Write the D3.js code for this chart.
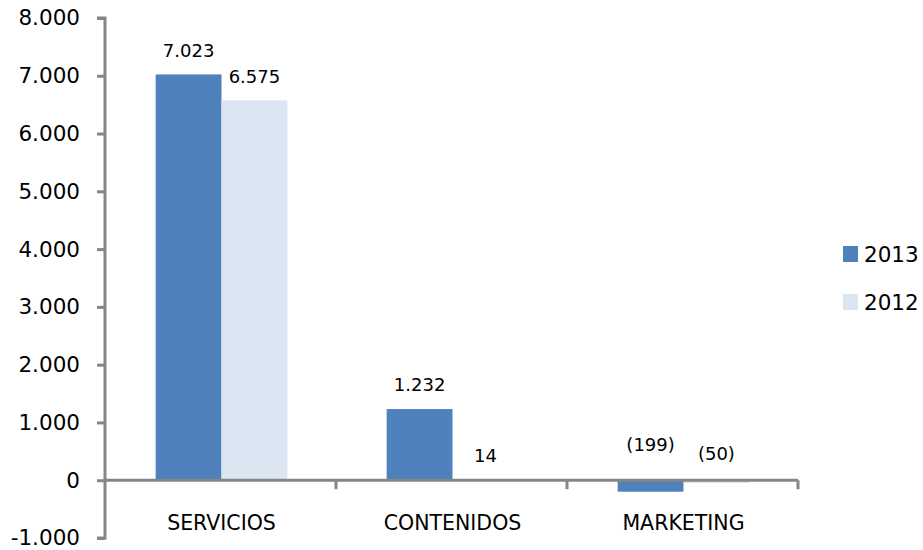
<!DOCTYPE html>
<html>
<head>
<meta charset="utf-8">
<script src="https://cdn.jsdelivr.net/npm/d3@7"></script>
<style>
  body { margin: 0; background: #fff; }
  svg text { font-family: "DejaVu Sans", sans-serif; fill: #000; }
</style>
</head>
<body>
<div id="chart"></div>
<script>
// chart data
const categories = ["SERVICIOS", "CONTENIDOS", "MARKETING"];
const seriesNames = ["2013", "2012"];
const values2013 = [7023, 1232, -199];
const values2012 = [6575, 14, -50];
const yTicks = [-1000, 0, 1000, 2000, 3000, 4000, 5000, 6000, 7000, 8000];

const width = 923, height = 550;
const colors = ["#4F81BD", "#DCE6F2"];
const axisColor = "#868686";

const locale = d3.formatLocale({ decimal: ",", thousands: ".", grouping: [3], currency: ["", ""], minus: "-" });
const fmt = locale.format(",.0f");
const labelFmt = v => v < 0 ? "(" + fmt(-v) + ")" : fmt(v);

let rows = categories.map((c, i) => ({ cat: c, vals: [values2013[i], values2012[i]] }));

let svg = d3.select("#chart")
    .append("svg")
    .attr("width", width)
    .attr("height", height);

let y = d3.scaleLinear()
    .domain([-1000, 8000])
    .range([538, 18]);

let x0 = d3.scaleBand()
    .domain(categories)
    .range([106, 799])
    .paddingInner(0.43)
    .paddingOuter(0.215);

let x1 = d3.scaleBand()
    .domain(seriesNames)
    .range([0, x0.bandwidth()]);

// bars
let groups = svg.selectAll("g.cat")
    .data(rows)
    .enter()
    .append("g")
    .attr("class", "cat")
    .attr("transform", d => "translate(" + x0(d.cat) + ",0)");

groups.selectAll("rect")
    .data(d => d.vals.map((v, j) => ({ key: seriesNames[j], v: v, j: j })))
    .enter()
    .append("rect")
    .attr("x", d => x1(d.key))
    .attr("width", x1.bandwidth())
    .attr("y", d => y(Math.max(0, d.v)))
    .attr("height", d => Math.abs(y(d.v) - y(0)))
    .attr("fill", d => colors[d.j]);

// value labels
groups.selectAll("text")
    .data(d => d.vals.map((v, j) => ({ key: seriesNames[j], v: v, j: j })))
    .enter()
    .append("text")
    .attr("x", d => x1(d.key) + x1.bandwidth() / 2)
    .attr("y", d => y(Math.abs(d.v)) - 24)
    .attr("dy", "0.35em")
    .attr("text-anchor", "middle")
    .style("font-size", "18px")
    .text(d => labelFmt(d.v));

// y axis
let yAxis = svg.append("g")
    .attr("transform", "translate(105,0)")
    .call(d3.axisLeft(y).tickValues(yTicks).tickFormat(fmt).tickSize(8).tickPadding(17));
yAxis.select(".domain").attr("stroke", axisColor).attr("stroke-width", 3)
    .attr("d", "M-8,18H0V538H-8");
yAxis.selectAll(".tick line").attr("stroke", axisColor).attr("stroke-width", 3);
yAxis.selectAll(".tick text").style("font-size", "21.5px").attr("fill", "#000");

// x axis at zero
let bounds = d3.range(categories.length + 1).map(i => 105 + i * x0.step());
let xAxis = svg.append("g");
xAxis.append("line")
    .attr("x1", 105).attr("x2", bounds[bounds.length - 1])
    .attr("y1", y(0)).attr("y2", y(0))
    .attr("stroke", axisColor).attr("stroke-width", 3);
xAxis.selectAll("line.tick")
    .data(bounds.slice(1))
    .enter()
    .append("line")
    .attr("class", "tick")
    .attr("x1", d => d).attr("x2", d => d)
    .attr("y1", y(0)).attr("y2", y(0) + 9)
    .attr("stroke", axisColor).attr("stroke-width", 3);
xAxis.selectAll("text")
    .data(categories)
    .enter()
    .append("text")
    .attr("x", d => x0(d) + x0.bandwidth() / 2)
    .attr("y", 523)
    .attr("dy", "0.35em")
    .attr("text-anchor", "middle")
    .style("font-size", "20.5px")
    .text(d => d);

// legend
let legend = svg.selectAll("g.legend")
    .data(seriesNames)
    .enter()
    .append("g")
    .attr("class", "legend")
    .attr("transform", (d, i) => "translate(843," + (254 + i * 48) + ")");
legend.append("rect")
    .attr("x", 0).attr("y", -8)
    .attr("width", 15).attr("height", 16)
    .attr("fill", (d, i) => colors[i]);
legend.append("text")
    .attr("x", 21)
    .attr("dy", "0.35em")
    .style("font-size", "21.5px")
    .text(d => d);
</script>
</body>
</html>
